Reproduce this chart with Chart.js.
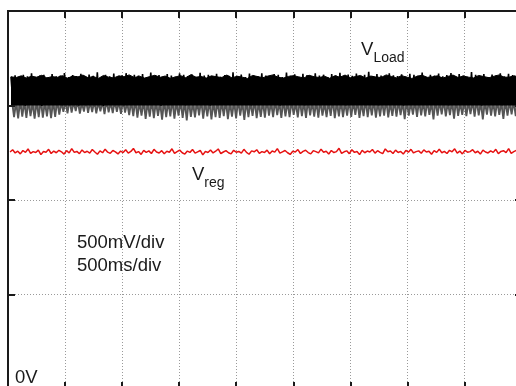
<!DOCTYPE html>
<html><head><meta charset="utf-8">
<script src="https://cdn.jsdelivr.net/npm/chart.js@4.4.1/dist/chart.umd.min.js"></script>
<style>
html,body{margin:0;padding:0;overflow:hidden;background:#fff;width:516px;height:386px}
#wrap{position:absolute;left:0;top:0;width:522px;height:389px}
</style>
</head><body><div id="wrap"><canvas id="c"></canvas></div>
<script>
// Oscilloscope grid: 500 ms/div horizontally, 500 mV/div vertically
const timeTicks = [0,500,1000,1500,2000,2500,3000,3500,4000,4500]; // ms
const voltTicks = [0,500,1000,1500,2000]; // mV

// uniform sampling of the traces
const loadStartMs = 26, loadStepMs = 18, coreStepMs = 45;
const regStartMs = 18, regStepMs = 22.5;
const coreFloorMv = 1500;   // lower edge of the solid dark part of V_Load
const greyCeilMv = 1510;    // upper edge of the lighter lower part of V_Load

// V_Load: upper edge of the solid dark mass, mV
const loadCoreTop = [
1652,1648,1657,1645,1655,1650,1660,1646,1653,1649,1658,1644,1656,1651,1661,1647,1654,1643,1659,1650,
1646,1657,1652,1662,1648,1655,1645,1653,1660,1649,1656,1644,1651,1658,1647,1663,1650,1654,1645,1657,
1652,1648,1661,1646,1655,1650,1643,1659,1653,1647,1656,1662,1649,1645,1654,1658,1651,1646,1660,1652,
1648,1655,1644,1657,1650,1661,1647,1653,1659,1645,1656,1651,1648,1662,1654,1646,1658,1650,1643,1655,
1660,1649,1652,1657,1645,1654,1661,1648,1656,1650,1646,1659,1653,1647,1655,1662,1649,1651,1657,1645,
1653
];

// V_Load trace, dense upper (dark) part, mV
const loadDark = [
1652,1508,1660,1503,1648,1515,1663,1499,1655,1530,1670,1506,1651,1512,1658,1497,1662,1521,1649,1505,
1666,1510,1654,1540,1659,1502,1672,1514,1650,1507,1661,1519,1656,1500,1668,1511,1653,1526,1664,1504,
1657,1516,1675,1509,1650,1498,1662,1523,1655,1506,1669,1513,1652,1535,1660,1501,1671,1517,1654,1508,
1663,1520,1658,1503,1666,1512,1651,1527,1674,1505,1656,1518,1661,1499,1649,1514,1667,1509,1659,1532,
1653,1507,1670,1515,1662,1502,1656,1524,1665,1510,1650,1519,1673,1504,1658,1513,1663,1500,1655,1528,
1668,1506,1652,1517,1661,1545,1657,1503,1676,1511,1654,1522,1664,1508,1651,1516,1669,1501,1660,1525,
1656,1512,1671,1504,1659,1519,1653,1507,1666,1531,1662,1500,1650,1514,1674,1509,1657,1521,1665,1505,
1652,1518,1668,1502,1661,1526,1655,1510,1670,1506,1658,1515,1663,1538,1651,1503,1667,1520,1660,1508,
1673,1513,1654,1501,1664,1523,1657,1509,1669,1516,1652,1504,1662,1529,1678,1507,1655,1517,1666,1502,
1659,1524,1651,1511,1671,1505,1660,1518,1656,1533,1665,1500,1653,1514,1668,1508,1662,1521,1657,1506,
1674,1512,1650,1527,1663,1503,1658,1516,1669,1509,1655,1522,1661,1501,1672,1519,1654,1507,1666,1530,
1659,1504,1652,1515,1677,1510,1662,1523,1656,1500,1667,1513,1651,1536,1664,1506,1660,1518,1670,1502,
1655,1520,1668,1508,1661,1514,1653,1526,1673,1505
];

// V_Load trace, sparser lower (grey) part, mV
const loadGrey = [
1522,1438,1515,1432,1526,1441,1518,1435,1524,1444,1512,1430,1520,1439,1527,1436,1516,1443,1523,1433,
1519,1440,1525,1452,1514,1466,1521,1459,1528,1463,1517,1470,1523,1457,1513,1468,1526,1461,1518,1465,
1524,1458,1516,1469,1520,1455,1527,1464,1515,1460,1522,1467,1518,1456,1525,1462,1514,1449,1521,1444,
1528,1436,1517,1447,1523,1429,1515,1441,1526,1433,1519,1445,1512,1425,1524,1438,1520,1442,1527,1431,
1516,1446,1522,1434,1518,1421,1525,1440,1513,1437,1521,1448,1528,1430,1517,1443,1523,1427,1515,1439,
1526,1435,1519,1444,1524,1428,1512,1441,1520,1432,1527,1447,1516,1424,1522,1438,1518,1445,1525,1433,
1514,1440,1521,1436,1528,1446,1517,1438,1523,1449,1515,1435,1526,1442,1519,1439,1522,1450,1513,1437,
1524,1444,1518,1434,1527,1448,1516,1441,1521,1436,1525,1447,1512,1439,1520,1445,1528,1433,1517,1443,
1523,1438,1515,1446,1526,1440,1519,1450,1522,1435,1514,1444,1527,1439,1518,1448,1524,1436,1516,1442,
1521,1447,1528,1437,1513,1445,1525,1441,1520,1449,1517,1428,1524,1446,1515,1452,1522,1440,1526,1448,
1518,1443,1523,1451,1514,1426,1527,1447,1519,1453,1525,1442,1516,1449,1521,1430,1528,1445,1513,1450,
1524,1444,1517,1454,1522,1441,1526,1448,1515,1427,1520,1452,1527,1446,1518,1443,1523,1450,1514,1429,
1525,1447,1519,1453,1521,1444,1528,1449,1516,1441
];

// V_reg trace, mV
const regTrace = [
1254,1266,1249,1258,1244,1262,1252,1270,1247,1256,1251,1264,1240,1257,1253,1268,1246,1259,1250,1263,
1255,1243,1261,1249,1272,1252,1257,1245,1265,1251,1258,1248,1267,1254,1242,1260,1250,1269,1253,1247,
1262,1255,1244,1259,1251,1266,1248,1257,1273,1250,1256,1241,1263,1252,1260,1246,1268,1254,1249,1261,
1245,1258,1253,1271,1247,1256,1264,1250,1243,1259,1252,1267,1248,1255,1262,1239,1257,1251,1265,1249,
1258,1270,1246,1254,1261,1250,1244,1263,1253,1257,1248,1268,1252,1242,1260,1255,1266,1247,1256,1251,
1264,1245,1259,1253,1272,1248,1255,1262,1250,1241,1258,1254,1267,1246,1257,1263,1251,1244,1261,1256,
1249,1269,1253,1258,1243,1262,1251,1256,1274,1247,1255,1260,1245,1266,1252,1257,1240,1263,1250,1259,
1254,1267,1248,1261,1252,1245,1270,1255,1259,1246,1264,1251,1257,1243,1262,1253,1268,1249,1256,1260,
1247,1265,1254,1258,1242,1261,1252,1269,1250,1257,1246,1263,1255,1271,1248,1259,1244,1262,1253,1256,
1266,1250,1258,1243,1264,1254,1249,1260,1252,1268,1245,1257,1261,1251,1272,1247,1256,1263,1253,1258
];

// text annotations, anchored in data units (ms, mV)
const notes = [
  {main:'V', sub:'Load', t:3091, mv:1767},
  {main:'V', sub:'reg',  t:1611, mv:1106},
  {main:'500mV/div', t:604, mv:746},
  {main:'500ms/div', t:604, mv:624},
  {main:'0V', t:61, mv:32}
];

const toPts = (arr, t0, dt) => arr.map((v,i)=>({x:t0+i*dt, y:v}));

const scopeMarks = {
  id:'scopeMarks',
  afterDatasetsDraw(chart){
    const {ctx, chartArea:a, scales:{x,y}} = chart;
    ctx.save();
    ctx.strokeStyle='#1a1a1a'; ctx.lineWidth=2;
    ctx.beginPath();
    timeTicks.forEach(t=>{
      if(t<=timeTicks[0]||t>=timeTicks[timeTicks.length-1]) return;
      const px=Math.round(x.getPixelForValue(t));
      ctx.moveTo(px,a.top); ctx.lineTo(px,a.top+7);
      ctx.moveTo(px,a.bottom); ctx.lineTo(px,a.bottom-7);
    });
    voltTicks.forEach(v=>{
      if(v<=voltTicks[0]||v>=voltTicks[voltTicks.length-1]) return;
      const py=Math.round(y.getPixelForValue(v));
      ctx.moveTo(a.left,py); ctx.lineTo(a.left+7,py);
      ctx.moveTo(a.right,py); ctx.lineTo(a.right-7,py);
    });
    ctx.stroke();
    ctx.fillStyle='#1a1a1a';
    ctx.textBaseline='alphabetic';
    ctx.textAlign='left';
    notes.forEach(n=>{
      const px=x.getPixelForValue(n.t), py=y.getPixelForValue(n.mv);
      ctx.font='18.5px "Liberation Sans", Arial, sans-serif';
      ctx.fillText(n.main, px, py);
      if(n.sub){
        const w=ctx.measureText(n.main).width;
        ctx.font='14px "Liberation Sans", Arial, sans-serif';
        ctx.fillText(n.sub, px+w, py+7);
      }
    });
    ctx.restore();
  }
};

// Chart.js paints the first dataset on top, so lower layers come last
new Chart(document.getElementById('c'), {
  type:'line',
  data:{datasets:[
    {label:'V_reg', data:toPts(regTrace, regStartMs, regStepMs), borderColor:'rgb(230,18,18)', borderWidth:1.5, borderJoinStyle:'bevel', fill:false},
    {label:'V_Load', data:toPts(loadDark, loadStartMs, loadStepMs), borderColor:'#000', borderWidth:1.6, borderJoinStyle:'bevel', fill:false},
    {label:'V_Load core', data:toPts(loadCoreTop, loadStartMs, coreStepMs), borderColor:'#000', borderWidth:1, backgroundColor:'#000', fill:{value:coreFloorMv}},
    {label:'V_Load low', data:toPts(loadGrey, loadStartMs+9, loadStepMs), borderColor:'#555', borderWidth:1.8, borderJoinStyle:'bevel', backgroundColor:'#8c8c8c', fill:{value:greyCeilMv}}
  ]},
  options:{
    responsive:true, maintainAspectRatio:false, animation:false,
    parsing:false, normalized:true,
    layout:{padding:{left:8, top:11, right:0, bottom:0}},
    elements:{point:{radius:0}, line:{tension:0}},
    plugins:{legend:{display:false}, tooltip:{enabled:false}, filler:{propagate:false}},
    scales:{
      x:{type:'linear', position:'top', min:timeTicks[0], max:timeTicks[timeTicks.length-1],
         afterBuildTicks: s=>{ s.ticks = timeTicks.map(v=>({value:v})); },
         ticks:{display:false},
         grid:{color:'#9a9a9a', lineWidth:1, drawTicks:false, tickLength:0},
         border:{display:true, color:'#1a1a1a', width:2, dash:[1,2]}},
      y:{type:'linear', position:'left', min:voltTicks[0], max:voltTicks[voltTicks.length-1],
         afterBuildTicks: s=>{ s.ticks = voltTicks.map(v=>({value:v})); },
         ticks:{display:false},
         grid:{color:'#9a9a9a', lineWidth:1, drawTicks:false, tickLength:0},
         border:{display:true, color:'#1a1a1a', width:2, dash:[1,2]}}
    }
  },
  plugins:[scopeMarks]
});
</script>
</body></html>
